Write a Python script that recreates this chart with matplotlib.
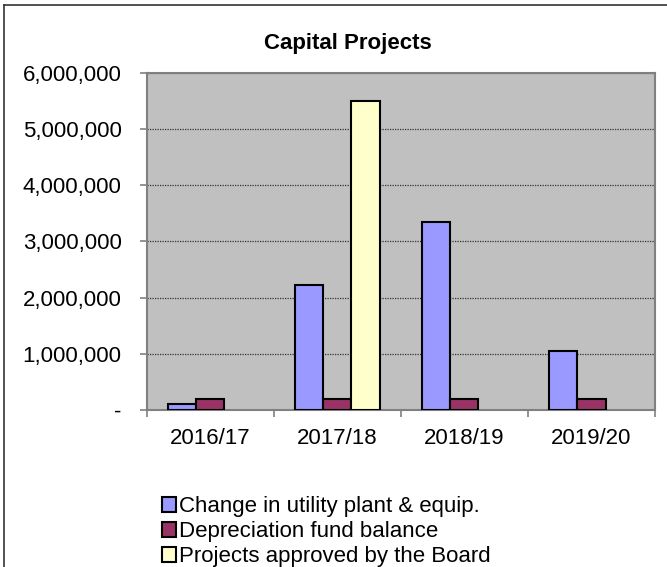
import matplotlib
matplotlib.use('Agg')
import matplotlib.pyplot as plt
from matplotlib.ticker import FuncFormatter, MultipleLocator, FixedLocator
from matplotlib.lines import Line2D
import numpy as np

plt.rcParams['font.family'] = ['Liberation Sans', 'DejaVu Sans']

years = ['2016/17', '2017/18', '2018/19', '2019/20']
change_plant = [100000, 2220000, 3340000, 1050000]
depreciation = [195000, 195000, 195000, 195000]
approved = [np.nan, 5510000, np.nan, np.nan]

series = [
    (change_plant, '#9999FF', 'Change in utility plant & equip.'),
    (depreciation, '#993366', 'Depreciation fund balance'),
    (approved, '#FFFFCC', 'Projects approved by the Board'),
]

W, H = 667, 567
fig = plt.figure(figsize=(W / 100, H / 100), dpi=100)
ax = fig.add_axes([146.5 / W, 1 - 410 / H, (655 - 146.5) / W, (410 - 73) / H])
ax.set_facecolor('#C0C0C0')

x = np.arange(len(years))
w = 1 / 4.5
handles = []
for i, (vals, col, lab) in enumerate(series):
    b = ax.bar(x + (i - 1) * w, vals, width=w, color=col, edgecolor='black', linewidth=1.5, zorder=3, label=lab)
    handles.append(b)

ax.set_xlim(-0.5, len(years) - 0.5)
ax.set_ylim(0, 6000000)
ax.yaxis.set_major_locator(MultipleLocator(1000000))
ax.yaxis.set_major_formatter(FuncFormatter(lambda v, p: '-' if v == 0 else f'{int(v):,}'))
ax.grid(axis='y', color='#333333', linestyle=(0, (1, 1)), linewidth=0.9, zorder=1)

ax.set_xticks(x)
ax.set_xticklabels(years)
ax.xaxis.set_minor_locator(FixedLocator(np.arange(-0.5, len(years), 1)))
ax.tick_params(axis='x', which='major', length=0, labelsize=16, pad=13)
ax.tick_params(axis='x', which='minor', length=5, color='#808080', width=1.2, direction='out')
ax.tick_params(axis='y', length=5, color='#808080', width=1.2, direction='out', labelsize=16, pad=13)

for s in ax.spines.values():
    s.set_color('#808080')
    s.set_linewidth(1.5)

fig.text(348 / W, 1 - 43 / H, 'Capital Projects', ha='center', va='center', fontsize=16, fontweight='bold')

leg = fig.legend(handles=handles, loc='upper left', bbox_to_anchor=(151 / W, 1 - 485 / H),
                 frameon=False, fontsize=16, handlelength=0.63, handleheight=0.63,
                 handletextpad=0.15, labelspacing=0.18, borderpad=0)

# chart-area border (cropped at right and bottom)
fig.add_artist(Line2D([3.5 / W, 3.5 / W], [0, 1 - 5 / H], transform=fig.transFigure, color='#333333', linewidth=1.2))
fig.add_artist(Line2D([3.5 / W, 1], [1 - 5 / H, 1 - 5 / H], transform=fig.transFigure, color='#333333', linewidth=1.2))

fig.savefig('out.png', dpi=100)
